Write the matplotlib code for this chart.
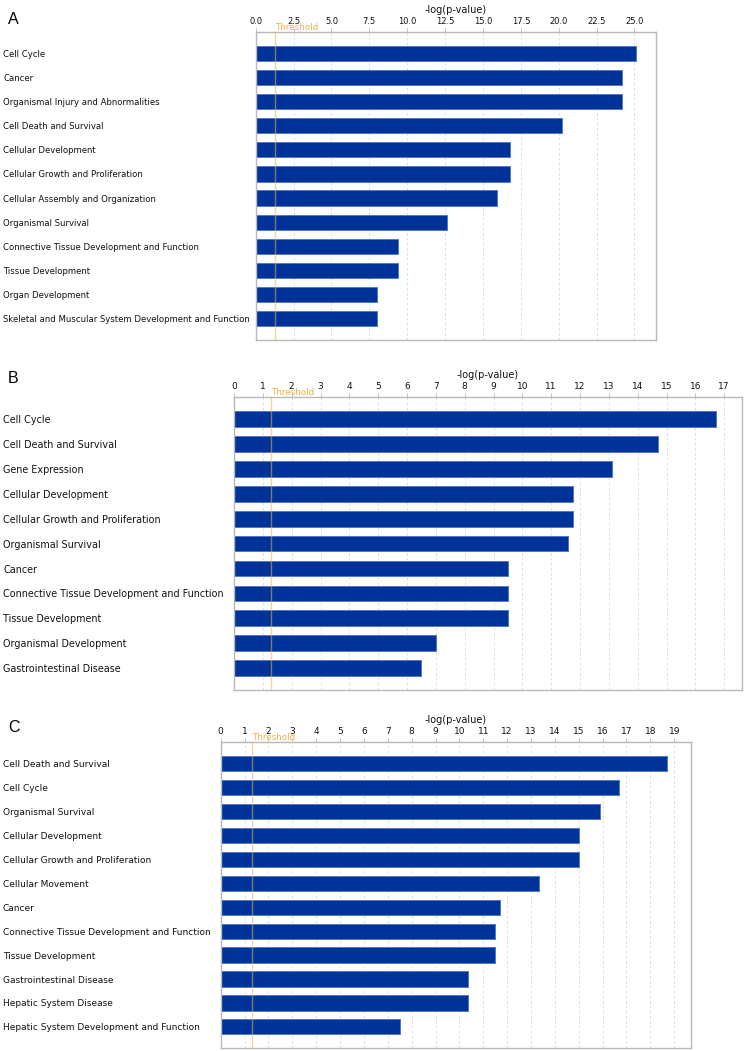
import matplotlib
matplotlib.use("Agg")
import matplotlib.pyplot as plt
import numpy as np

# ---------------- data ----------------
cats_a = ["Cell Cycle", "Cancer", "Organismal Injury and Abnormalities",
          "Cell Death and Survival", "Cellular Development",
          "Cellular Growth and Proliferation", "Cellular Assembly and Organization",
          "Organismal Survival", "Connective Tissue Development and Function",
          "Tissue Development", "Organ Development",
          "Skeletal and Muscular System Development and Function"]
vals_a = [25.1, 24.2, 24.2, 20.2, 16.8, 16.8, 15.9, 12.6, 9.4, 9.4, 8.0, 8.0]
ticks_a = [0.0, 2.5, 5.0, 7.5, 10.0, 12.5, 15.0, 17.5, 20.0, 22.5, 25.0]
ticklabels_a = ["0.0", "2.5", "5.0", "7.5", "10.0", "12.5", "15.0", "17.5", "20.0", "22.5", "25.0"]

cats_b = ["Cell Cycle", "Cell Death and Survival", "Gene Expression",
          "Cellular Development", "Cellular Growth and Proliferation",
          "Organismal Survival", "Cancer", "Connective Tissue Development and Function",
          "Tissue Development", "Organismal Development", "Gastrointestinal Disease"]
vals_b = [16.7, 14.7, 13.1, 11.75, 11.75, 11.6, 9.5, 9.5, 9.5, 7.0, 6.5]
ticks_b = list(range(0, 18))

cats_c = ["Cell Death and Survival", "Cell Cycle", "Organismal Survival",
          "Cellular Development", "Cellular Growth and Proliferation",
          "Cellular Movement", "Cancer", "Connective Tissue Development and Function",
          "Tissue Development", "Gastrointestinal Disease", "Hepatic System Disease",
          "Hepatic System Development and Function"]
vals_c = [18.7, 16.7, 15.9, 15.0, 15.0, 13.35, 11.7, 11.5, 11.5, 10.35, 10.35, 7.5]
ticks_c = list(range(0, 20))

threshold = 1.3
xlabel = "-log(p-value)"
threshold_label = "Threshold"

# ---------------- figure ----------------
W, H = 745, 1051
DPI = 100
fig = plt.figure(figsize=(W / DPI, H / DPI), dpi=DPI)
plt.rcParams['font.family'] = ['DejaVu Sans']

BAR = "#003399"
EDGE = "#5577cc"
THR = "#f0b040"
GRID = "#d8d8d8"
SPINE = "#b8b8b8"


def rect(left, right, top, bottom):
    return [left / W, 1 - bottom / H, (right - left) / W, (bottom - top) / H]


def panel(letter, letter_y, box, cats, vals, ticks, xmax, label_fs, tick_fs,
          ticklabels=None, ypad=0.88):
    left, right, top, bottom = box
    ax = fig.add_axes(rect(left, right, top, bottom))
    y = np.arange(len(cats))
    ax.barh(y, vals, height=0.63, color=BAR, edgecolor=EDGE, linewidth=0.7, zorder=2)
    ax.set_xlim(0, xmax)
    ax.set_ylim(len(cats) - 1 + ypad, -ypad)
    ax.xaxis.tick_top()
    ax.xaxis.set_label_position("top")
    ax.set_xticks(ticks)
    if ticklabels is not None:
        ax.set_xticklabels(ticklabels)
    ax.tick_params(axis="x", direction="out", length=3, width=0.6, color=SPINE,
                   labelsize=tick_fs, pad=1.5, labelcolor="#111111")
    ax.set_xlabel(xlabel, fontsize=7, labelpad=3, color="#111111")
    ax.grid(axis="x", linestyle=(0, (3, 3)), color=GRID, linewidth=0.6, zorder=0)
    ax.set_axisbelow(True)
    for s in ax.spines.values():
        s.set_color(SPINE)
        s.set_linewidth(1.0)
    # category labels, left aligned at figure left edge
    ax.set_yticks(y)
    ax.set_yticklabels(cats, fontsize=label_fs, ha="left", color="#111111")
    pad_pts = (left - 3) * 72 / DPI
    ax.tick_params(axis="y", length=0, pad=pad_pts)
    # threshold
    ax.axvline(threshold, color=THR, linewidth=1.0, alpha=0.55, zorder=3)
    ax.text(threshold, 1.0, threshold_label, transform=ax.get_xaxis_transform(),
            color=THR, fontsize=6.3, ha="left", va="bottom", zorder=4)
    fig.text(8 / W, 1 - letter_y / H, letter, fontsize=11.5, family="Liberation Sans",
             ha="left", va="center")
    return ax


panel("A", 20, (255.7, 655.7, 32, 340), cats_a, vals_a, ticks_a, 26.4, 6.1, 6.0,
      ticklabels=ticklabels_a)
panel("B", 378, (234, 741.5, 397.3, 690), cats_b, vals_b, ticks_b, 17.6, 6.9, 6.5)
panel("C", 727, (220.7, 690.7, 742.3, 1048), cats_c, vals_c, ticks_c, 19.69, 6.5, 6.5)

fig.savefig("out.png", dpi=DPI)
